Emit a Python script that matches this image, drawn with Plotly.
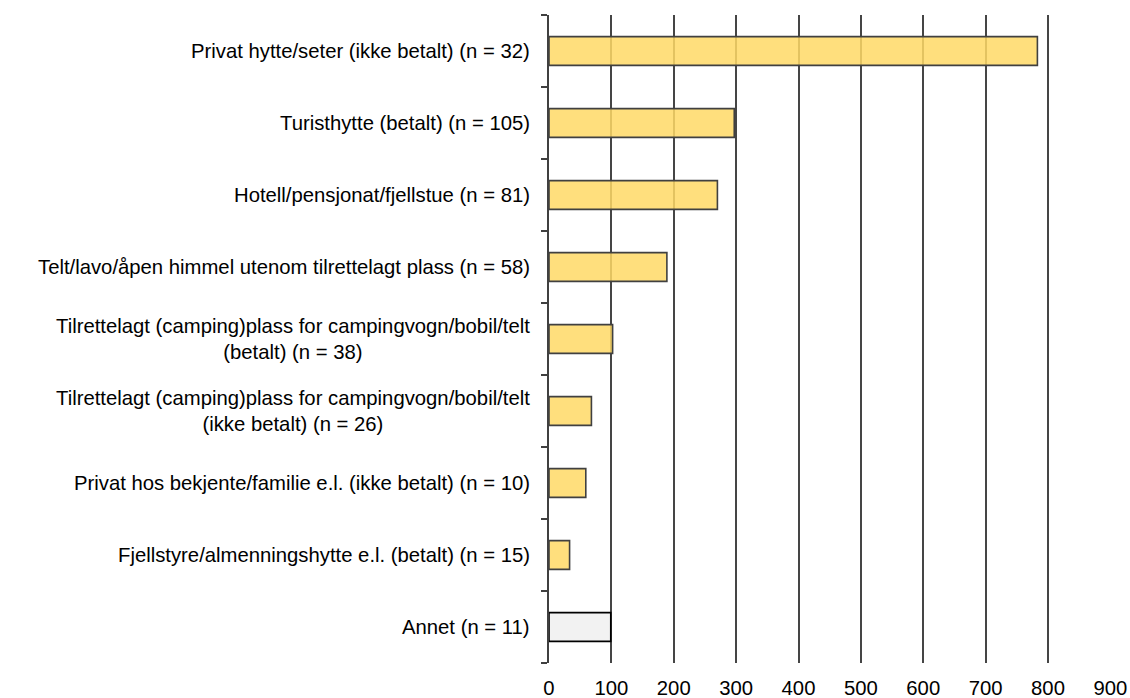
import plotly.graph_objects as go

categories = [
    "Privat hytte/seter (ikke betalt) (n = 32)",
    "Turisthytte (betalt) (n = 105)",
    "Hotell/pensjonat/fjellstue (n = 81)",
    "Telt/lavo/åpen himmel utenom tilrettelagt plass (n = 58)",
    "Tilrettelagt (camping)plass for campingvogn/bobil/telt<br>(betalt) (n = 38)",
    "Tilrettelagt (camping)plass for campingvogn/bobil/telt<br>(ikke betalt) (n = 26)",
    "Privat hos bekjente/familie e.l. (ikke betalt) (n = 10)",
    "Fjellstyre/almenningshytte e.l. (betalt) (n = 15)",
    "Annet (n = 11)",
]
values = [783, 297, 270, 189, 102, 68, 59, 33, 99]
x_ticks = [0, 100, 200, 300, 400, 500, 600, 700, 800, 900]

fill_colors = ["rgba(255,217,102,0.85)"] * 8 + ["#F2F2F2"]
line_colors = ["#404040"] * 8 + ["#000000"]

ids = list(range(len(categories)))
FONT = "Liberation Sans, Arial"
FS = 20.3

fig = go.Figure()
fig.add_trace(go.Bar(
    x=values, y=ids, orientation="h", width=0.4,
    marker=dict(color=fill_colors, line=dict(color=line_colors, width=1.6)),
    hoverinfo="x",
))

for i, c in enumerate(categories):
    fig.add_annotation(
        x=0, xref="paper", y=i, yref="y", text=c, showarrow=False,
        xanchor="right", yanchor="middle", align="center", xshift=-17,
        font=dict(family=FONT, size=FS, color="#000000"),
    )

fig.update_layout(
    width=1130, height=698,
    margin=dict(l=549, r=19, t=15, b=35),
    plot_bgcolor="white", paper_bgcolor="white",
    showlegend=False,
    font=dict(family=FONT, size=FS, color="#000000"),
)
fig.update_xaxes(
    range=[0, 901], tickvals=x_ticks, ticktext=[str(v) for v in x_ticks],
    showgrid=True, gridcolor="#454545", gridwidth=1.5,
    zeroline=False, showline=False, ticks="", ticklabelstandoff=11,
    tickfont=dict(family=FONT, size=FS, color="#000000"), automargin=False,
)
fig.update_yaxes(
    type="linear", range=[8.5, -0.5], tickmode="array",
    tickvals=[i - 0.5 for i in range(len(ids) + 1)],
    ticktext=[""] * (len(ids) + 1),
    showticklabels=False, showgrid=False, zeroline=False,
    showline=True, linecolor="#404040", linewidth=1.6,
    ticks="outside", ticklen=6, tickcolor="#404040", tickwidth=1.6,
    automargin=False,
)

fig.write_html(
    "out.html",
    config={"displayModeBar": False},
    post_script="document.body.style.margin='0';document.body.style.overflow='hidden';",
)
